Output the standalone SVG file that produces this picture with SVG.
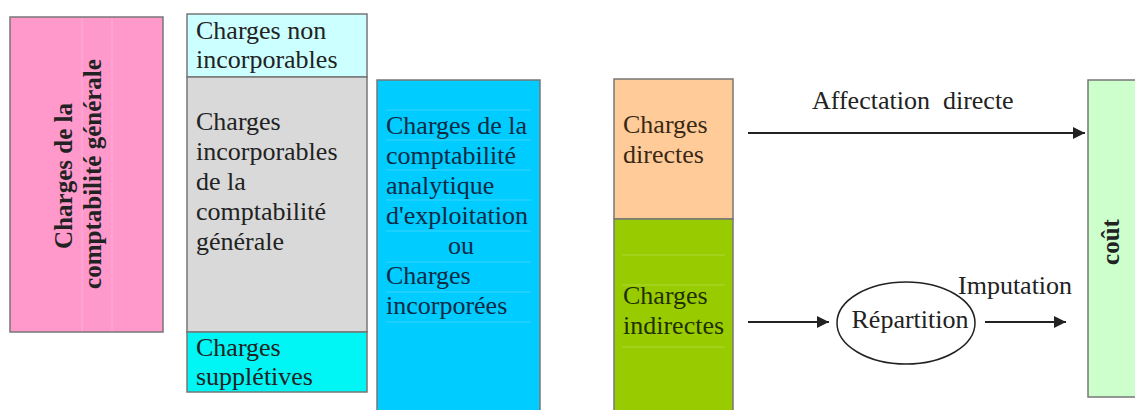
<svg xmlns="http://www.w3.org/2000/svg" width="1135" height="410" viewBox="0 0 1135 410">
  <style>
    .t { font-family: "Liberation Serif", "Times New Roman", serif; font-size: 26px; fill: #222; }
    .b { font-weight: bold; font-size: 25px; }
    .box { stroke: #777; stroke-width: 1.5; }
    .faint { stroke: #ffffff; stroke-opacity: 0.22; stroke-width: 1; }
    .conn { stroke: #222; stroke-width: 2; fill: none; }
  </style>
  <defs>
    <marker id="arrow" viewBox="0 0 10 10" refX="10" refY="5" markerWidth="6" markerHeight="6" orient="auto" markerUnits="strokeWidth">
      <path d="M0,0 L10,5 L0,10 z" fill="#222"/>
    </marker>
  </defs>
  <rect width="1135" height="410" fill="#ffffff"/>

  <g id="charges-comptabilite-generale">
    <rect class="box" x="10" y="17" width="153" height="315" fill="#ff99cc"/>
    <line class="faint" x1="82" y1="18" x2="82" y2="331"/>
    <line class="faint" x1="112" y1="18" x2="112" y2="331"/>
    <text class="t b" transform="translate(72,176) rotate(-90)" text-anchor="middle">Charges de la</text>
    <text class="t b" transform="translate(101,174) rotate(-90)" text-anchor="middle">comptabilité générale</text>
  </g>

  <g id="charges-non-incorporables">
    <rect class="box" x="187" y="14" width="180" height="63" fill="#ccffff"/>
    <text class="t" x="196" y="39">Charges non</text>
    <text class="t" x="196" y="68">incorporables</text>
  </g>

  <g id="charges-incorporables">
    <rect class="box" x="187" y="77" width="180" height="255" fill="#d9d9d9"/>
    <text class="t" x="196" y="130">Charges</text>
    <text class="t" x="196" y="160">incorporables</text>
    <text class="t" x="196" y="190">de la</text>
    <text class="t" x="196" y="220">comptabilité</text>
    <text class="t" x="196" y="250">générale</text>
  </g>

  <g id="charges-suppletives">
    <rect class="box" x="187" y="332" width="180" height="60" fill="#00f5f5"/>
    <text class="t" x="196" y="356">Charges</text>
    <text class="t" x="196" y="385">supplétives</text>
  </g>

  <g id="charges-analytiques">
    <rect class="box" x="377" y="80" width="163" height="340" fill="#00ccff"/>
    <g class="faint">
      <line x1="386" y1="110" x2="531" y2="110"/>
      <line x1="386" y1="140" x2="531" y2="140"/>
      <line x1="386" y1="170" x2="531" y2="170"/>
      <line x1="386" y1="200" x2="531" y2="200"/>
      <line x1="386" y1="231" x2="531" y2="231"/>
      <line x1="386" y1="262" x2="531" y2="262"/>
      <line x1="386" y1="292" x2="531" y2="292"/>
      <line x1="386" y1="322" x2="531" y2="322"/>
    </g>
    <text class="t" x="386" y="134" style="fill:#0d2a45">Charges de la</text>
    <text class="t" x="386" y="164" style="fill:#0d2a45">comptabilité</text>
    <text class="t" x="386" y="194" style="fill:#0d2a45">analytique</text>
    <text class="t" x="386" y="224" style="fill:#0d2a45">d'exploitation</text>
    <text class="t" x="461" y="254" text-anchor="middle" style="fill:#0d2a45">ou</text>
    <text class="t" x="386" y="284" style="fill:#0d2a45">Charges</text>
    <text class="t" x="386" y="314" style="fill:#0d2a45">incorporées</text>
  </g>

  <g id="charges-directes">
    <rect class="box" x="614" y="79" width="119" height="140" fill="#ffcc99"/>
    <text class="t" x="623" y="133" style="fill:#3a2816">Charges</text>
    <text class="t" x="623" y="163" style="fill:#3a2816">directes</text>
  </g>

  <g id="charges-indirectes">
    <rect class="box" x="614" y="219" width="119" height="200" fill="#99cc00"/>
    <g class="faint">
      <line x1="622" y1="255" x2="725" y2="255"/>
      <line x1="622" y1="285" x2="725" y2="285"/>
      <line x1="622" y1="347" x2="725" y2="347"/>
    </g>
    <text class="t" x="623" y="304" style="fill:#1f3000">Charges</text>
    <text class="t" x="623" y="334" style="fill:#1f3000">indirectes</text>
  </g>

  <g id="repartition">
    <ellipse cx="906" cy="323" rx="69" ry="41" fill="#ffffff" stroke="#222" stroke-width="1.5"/>
    <text class="t" x="910" y="328" text-anchor="middle">Répartition</text>
  </g>

  <g id="cout">
    <rect class="box" x="1088" y="80" width="50" height="317" fill="#ccffcc"/>
    <text class="t b" transform="translate(1119,242) rotate(-90)" text-anchor="middle">coût</text>
  </g>

  <g id="connectors">
    <line class="conn" x1="748" y1="133" x2="1085" y2="133" marker-end="url(#arrow)"/>
    <text class="t" x="812" y="109" xml:space="preserve">Affectation  directe</text>
    <line class="conn" x1="748" y1="322" x2="829" y2="322" marker-end="url(#arrow)"/>
    <line class="conn" x1="985" y1="322" x2="1066" y2="322" marker-end="url(#arrow)"/>
    <text class="t" x="958" y="294">Imputation</text>
  </g>
</svg>
